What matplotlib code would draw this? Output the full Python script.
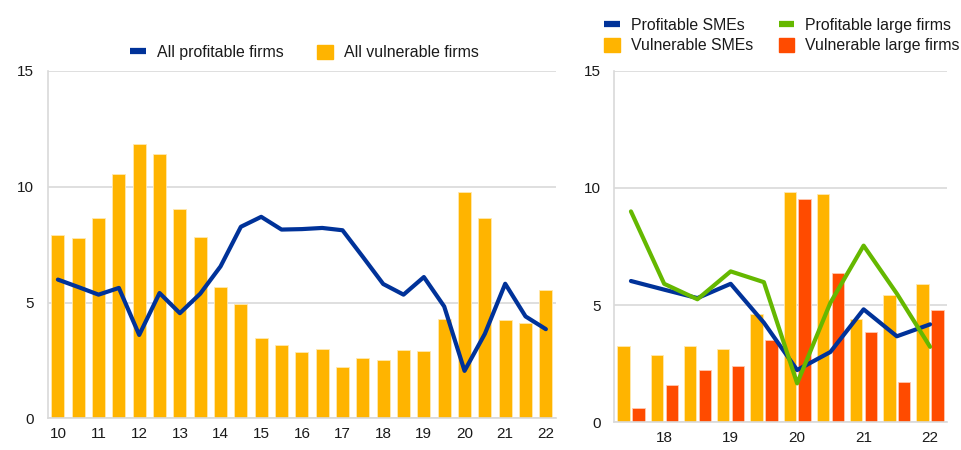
import numpy as np
import matplotlib.pyplot as plt
from matplotlib.lines import Line2D
from matplotlib.patches import Patch

plt.rcParams['font.family'] = ['Liberation Sans', 'DejaVu Sans']

# left panel: half-yearly, 2010 H1 .. 2022 H1
left_years = ['10', '11', '12', '13', '14', '15', '16', '17', '18', '19', '20', '21', '22']
all_vulnerable = [7.93, 7.8, 8.66, 10.57, 11.85, 11.4, 9.05, 7.82, 5.67, 4.92, 3.48, 3.16, 2.88,
                  3.0, 2.22, 2.61, 2.5, 2.94, 2.91, 4.31, 9.77, 8.66, 4.23, 4.13, 5.53]
all_profitable = [5.99, 5.67, 5.34, 5.63, 3.6, 5.41, 4.54, 5.38, 6.56, 8.27, 8.7, 8.15, 8.17,
                  8.22, 8.12, 6.97, 5.8, 5.34, 6.1, 4.83, 2.05, 3.65, 5.81, 4.4, 3.85]

# right panel: half-yearly, 2017 H2 .. 2022 H1
right_years = ['18', '19', '20', '21', '22']
vuln_sme = [3.26, 2.87, 3.25, 3.12, 4.62, 9.82, 9.76, 4.41, 5.42, 5.89]
vuln_large = [0.6, 1.6, 2.23, 2.41, 3.5, 9.53, 6.35, 3.84, 1.72, 4.81]
prof_sme = [6.03, 5.66, 5.3, 5.91, 4.25, 2.23, 3.0, 4.82, 3.67, 4.18]
prof_large = [9.0, 5.91, 5.25, 6.44, 5.98, 1.66, 5.1, 7.54, 5.49, 3.22]

BLUE = '#003299'
YELLOW = '#ffb400'
ORANGE = '#ff4b00'
GREEN = '#65b800'
GRID = '#d9d9d9'
TXT = '#1a1a1a'

fig = plt.figure(figsize=(9.62, 4.5), dpi=100)
ax1 = fig.add_axes([0.0496, 0.0704, 0.5284, 0.772])
ax2 = fig.add_axes([0.6386, 0.0616, 0.3455, 0.781])


def style(ax):
    ax.set_ylim(0, 15)
    ax.set_yticks([0, 5, 10, 15])
    ax.grid(axis='y', color=GRID, lw=1.2)
    ax.set_axisbelow(True)
    for s in ['top', 'right']:
        ax.spines[s].set_visible(False)
    for s in ['left', 'bottom']:
        ax.spines[s].set_color(GRID)
        ax.spines[s].set_linewidth(1.2)
    ax.tick_params(length=0, labelsize=11, colors=TXT)
    ax.tick_params(axis='y', pad=10)
    ax.tick_params(axis='x', pad=6)


def line_handle(c):
    return Line2D([], [], color=c, lw=4.5, solid_capstyle='butt')


x1 = np.arange(len(all_vulnerable))
ax1.bar(x1, all_vulnerable, width=0.65, color=YELLOW, edgecolor='#ffe9b0', lw=0.6)
ax1.plot(x1, all_profitable, color=BLUE, lw=3, solid_joinstyle='round', solid_capstyle='round')
ax1.set_xlim(-0.5, len(x1) - 0.5)
ax1.set_xticks(x1[::2])
ax1.set_xticklabels(left_years)
style(ax1)
h1 = [line_handle(BLUE), Patch(color=YELLOW)]
ax1.legend(h1, ['All profitable firms', 'All vulnerable firms'], loc='center',
           bbox_to_anchor=(0.505, 1.052), ncol=2, frameon=False, fontsize=11.4,
           handlelength=1.0, handleheight=0.95, columnspacing=2.1, handletextpad=0.7,
           labelcolor=TXT)

x2 = np.arange(len(vuln_sme))
ax2.bar(x2 - 0.225, vuln_sme, width=0.37, color=YELLOW, edgecolor='#ffe9b0', lw=0.6)
ax2.bar(x2 + 0.225, vuln_large, width=0.37, color=ORANGE, edgecolor='#ffc9b0', lw=0.6)
ax2.plot(x2, prof_sme, color=BLUE, lw=3, solid_joinstyle='round', solid_capstyle='round')
ax2.plot(x2, prof_large, color=GREEN, lw=3, solid_joinstyle='round', solid_capstyle='round')
ax2.set_xlim(-0.5, len(x2) - 0.5)
ax2.set_xticks(x2[1::2])
ax2.set_xticklabels(right_years)
style(ax2)
h2 = [line_handle(BLUE), Patch(color=YELLOW), line_handle(GREEN), Patch(color=ORANGE)]
ax2.legend(h2, ['Profitable SMEs', 'Vulnerable SMEs', 'Profitable large firms', 'Vulnerable large firms'],
           loc='center left', bbox_to_anchor=(-0.05, 1.1), ncol=2, frameon=False, fontsize=11.4,
           handlelength=1.0, handleheight=0.95, columnspacing=1.6, handletextpad=0.7,
           labelspacing=0.3, borderaxespad=0.0, labelcolor=TXT)

fig.savefig('out.png', dpi=100)
